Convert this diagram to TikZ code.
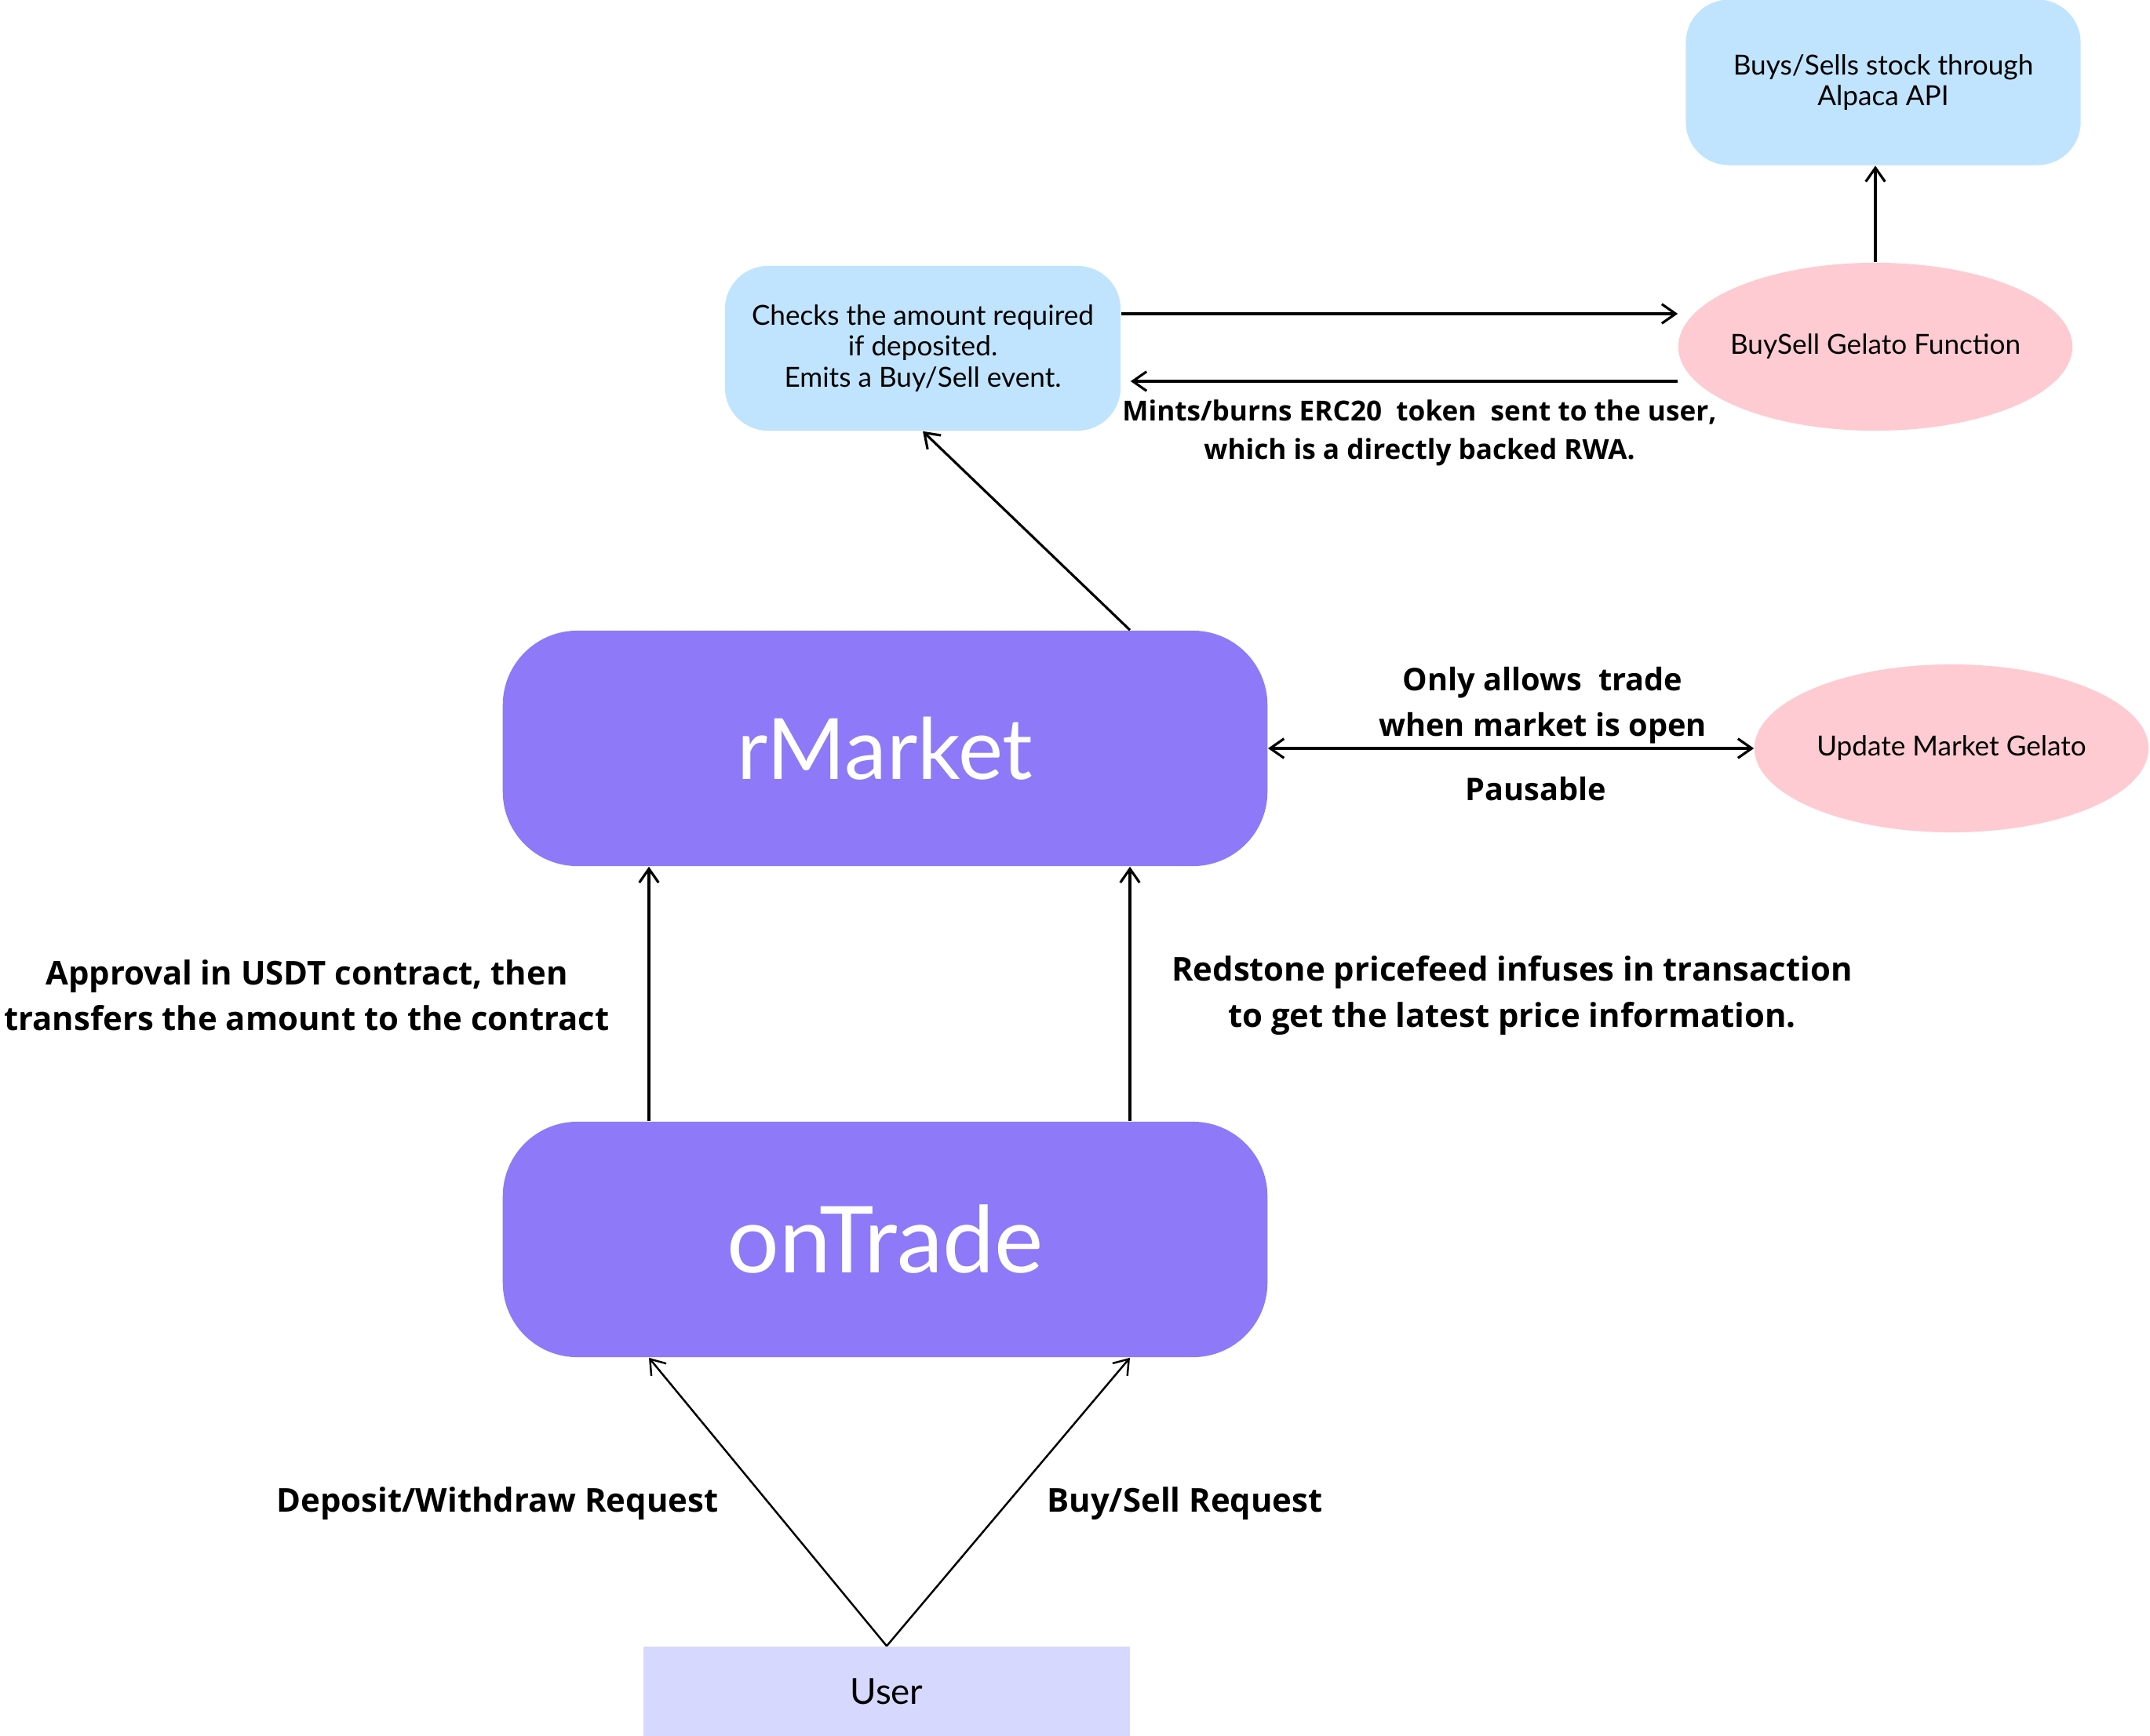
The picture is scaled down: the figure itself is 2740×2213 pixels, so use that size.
\documentclass[tikz,border=0pt]{standalone}
\usepackage{fontspec}
\setmainfont{Lato}
\newfontfamily\lblfont{Open Sans}
\usetikzlibrary{shapes.geometric,arrows.meta,calc}
\definecolor{purp}{HTML}{8E79F8}
\definecolor{lblue}{HTML}{C0E4FD}
\definecolor{lpink}{HTML}{FECBD2}
\definecolor{lav}{HTML}{D6D9FD}
\begin{document}
\begin{tikzpicture}[x=0.01cm,y=-0.01cm,
  bluebox/.style={rectangle,rounded corners=0.55cm,fill=lblue,inner sep=0pt,align=center,font=\fontsize{10}{11.3}\selectfont},
  pinkell/.style={ellipse,fill=lpink,inner sep=0pt,minimum width=5.02cm,minimum height=2.14cm,align=center,font=\fontsize{10}{11.3}\selectfont},
  bigbox/.style={rectangle,rounded corners=0.95cm,fill=purp,inner sep=0pt,minimum width=9.74cm,minimum height=3.0cm,text=white},
  lbl/.style={align=center,font=\lblfont\bfseries\fontsize{11.9}{16.5}\selectfont},
  lblm/.style={align=center,font=\lblfont\bfseries\fontsize{11.3}{16.5}\selectfont},
  arr/.style={-{Straight Barb[length=5pt,width=7pt]},line width=0.9pt},
  darr/.style={{Straight Barb[length=5pt,width=7pt]}-{Straight Barb[length=5pt,width=7pt]},line width=0.9pt}]
\useasboundingbox (0,0) rectangle (2740,2213);
\node[bluebox,minimum width=5.03cm,minimum height=2.11cm] (buys) at (2400,105) {Buys/Sells stock through\\Alpaca API};
\node[bluebox,minimum width=5.04cm,minimum height=2.10cm] (checks) at (1176,444) {Checks the amount required\\if deposited.\\Emits a Buy/Sell event.};
\node[pinkell] (buysell) at (2390,442) {\makebox[0pt]{BuySell Gelato Function}};
\node[pinkell] (update) at (2487,954) {\makebox[0pt]{Update Market Gelato}};
\node[bigbox,font=\fontsize{30.7}{34}\selectfont] (rmarket) at (1128,954) {rMarket};
\node[bigbox,font=\fontsize{33.5}{36}\selectfont] (ontrade) at (1128,1580) {onTrade};
\node[rectangle,fill=lav,minimum width=6.2cm,minimum height=1.14cm,inner sep=0pt,font=\fontsize{13}{15}\selectfont] (user) at (1130,2156) {User};
% connectors
\coordinate (c1) at ($(checks.east)+(0,-44)$);
\coordinate (c2) at ($(checks.east)+(12,42)$);
\draw[arr] (c1) -- (c1 -| buysell.west);
\draw[arr] (c2 -| buysell.west) -- (c2);
\draw[arr] (buysell.north) -- (buysell.north |- buys.south);
\coordinate (r1) at ($(rmarket.north)+(312,0)$);
\draw[arr] (r1) -- (checks.south);
\draw[darr] (rmarket.east) -- (update.west);
\coordinate (o1) at ($(ontrade.north)+(-301,0)$);
\coordinate (o2) at ($(ontrade.north)+(312,0)$);
\draw[arr] (o1) -- (o1 |- rmarket.south);
\draw[arr] (o2) -- (o2 |- rmarket.south);
\coordinate (o3) at ($(ontrade.south)+(-301,0)$);
\coordinate (o4) at ($(ontrade.south)+(312,0)$);
\draw[arr,line width=0.7pt] (user.north) -- (o3);
\draw[arr,line width=0.7pt] (user.north) -- (o4);
% labels
\node[align=center,font=\lblfont\bfseries\fontsize{10}{13.9}\selectfont] (lmint) at (1809,552) {Mints/burns ERC20\ \ token\ \ sent to the user,\\which is a directly backed RWA.};
\node[lblm] (lonly) at (1966,899) {Only allows\ \ trade\\when market is open};
\node[lblm] (lpause) at (1957,1006) {Pausable};
\node[lbl] (lappr) at (391,1269) {Approval in USDT contract, then\\transfers the amount to the contract};
\node[lbl] (lred) at (1927,1269) {Redstone pricefeed infuses in transaction\\to get the latest price information.};
\node[lbl] (ldep) at (634,1917) {Deposit/Withdraw Request};
\node[lbl] (lbuy) at (1510,1917) {Buy/Sell Request};
\end{tikzpicture}
\end{document}
